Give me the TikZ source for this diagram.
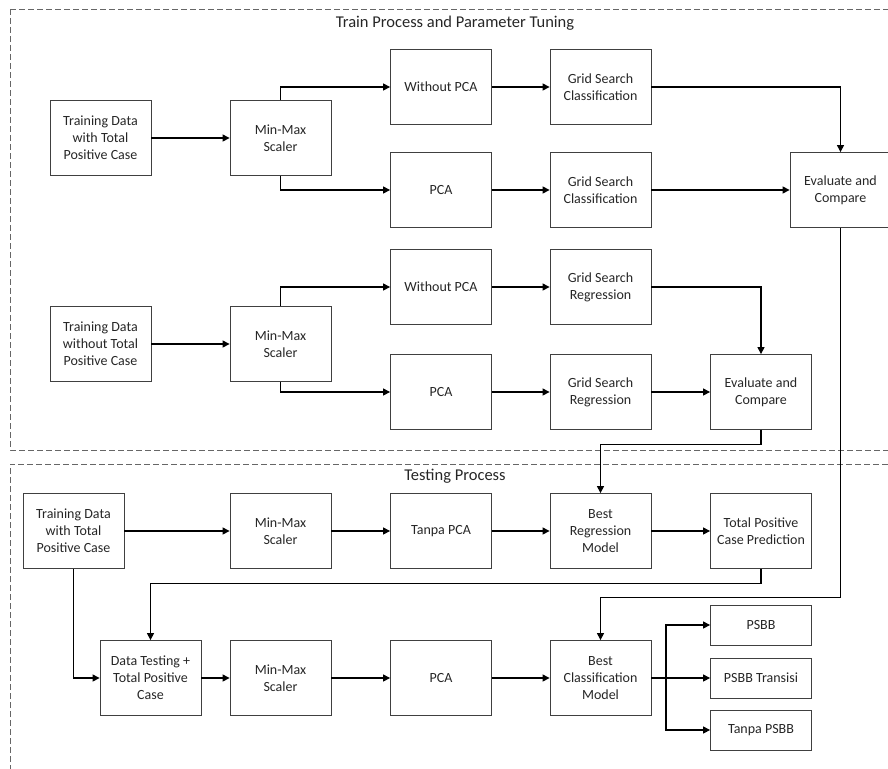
\documentclass[tikz,border=0pt]{standalone}
\usepackage{fontspec}
\setmainfont{Carlito}
\usetikzlibrary{arrows.meta}
\begin{document}
\begin{tikzpicture}[x=1pt,y=-1pt,
  box/.style={draw=black!75, line width=0.8pt, minimum width=101pt, minimum height=75pt, align=center, inner sep=1pt, font=\fontsize{14}{17}\selectfont, text=black!85},
  sbox/.style={box, minimum height=40pt},
  arr/.style={line width=1.1pt, -{Triangle[length=7pt,width=7pt]}},
  ln/.style={line width=1.1pt},
  frame/.style={draw=black!60, dashed, dash pattern=on 6pt off 3pt, line width=0.7pt},
  ttl/.style={font=\fontsize{16.5}{19}\selectfont, text=black!85}]
\useasboundingbox (0,0) rectangle (888,768);
\clip (0,0) rectangle (888,768);
% frames
\draw[frame] (10,9) -- (900,9);
\draw[frame] (10,9) -- (10,450) -- (900,450);
\draw[frame] (10,780) -- (10,464) -- (900,464);
\node[ttl] (t1) at (455,23) {Train Process and Parameter Tuning};
\node[ttl] (t2) at (455,476) {Testing Process};
% top section
\node[box] (td1) at (100.5,138) {Training Data\\with Total\\Positive Case};
\node[box] (mm1) at (280.5,138) {Min-Max\\Scaler};
\node[box] (wp1) at (441,87) {Without PCA};
\node[box] (pc1) at (441,190) {PCA};
\node[box] (gc1) at (600.5,87) {Grid Search\\Classification};
\node[box] (gc2) at (600.5,190) {Grid Search\\Classification};
\node[box] (ec1) at (840.5,190) {Evaluate and\\Compare};
% middle section
\node[box] (td2) at (100.5,344) {Training Data\\without Total\\Positive Case};
\node[box] (mm2) at (280.5,344) {Min-Max\\Scaler};
\node[box] (wp2) at (441,287) {Without PCA};
\node[box] (pc2) at (441,392) {PCA};
\node[box] (gr1) at (600.5,287) {Grid Search\\Regression};
\node[box] (gr2) at (600.5,392) {Grid Search\\Regression};
\node[box] (ec2) at (761,392) {Evaluate and\\Compare};
% bottom section
\node[box] (td3) at (73.5,531) {Training Data\\with Total\\Positive Case};
\node[box] (mm3) at (280.5,531) {Min-Max\\Scaler};
\node[box] (tp) at (441,531) {Tanpa PCA};
\node[box] (brm) at (600.5,531) {Best\\Regression\\Model};
\node[box] (tpc) at (761,531) {Total Positive\\Case Prediction};
\node[box] (dt) at (150.5,678) {Data Testing +\\Total Positive\\Case};
\node[box] (mm4) at (280.5,678) {Min-Max\\Scaler};
\node[box] (pc3) at (441,678) {PCA};
\node[box] (bcm) at (600.5,678) {Best\\Classification\\Model};
\node[sbox] (ps1) at (761,625) {PSBB};
\node[sbox] (ps2) at (761,678) {PSBB Transisi};
\node[sbox] (ps3) at (761,730) {Tanpa PSBB};
% top connectors
\draw[arr] (td1) -- (mm1);
\draw[arr] (mm1.north) |- (wp1.west);
\draw[arr] (mm1.south) |- (pc1.west);
\draw[arr] (wp1) -- (gc1);
\draw[arr] (pc1) -- (gc2);
\draw[arr] (gc1.east) -| (ec1.north);
\draw[arr] (gc2) -- (ec1);
% middle connectors
\draw[arr] (td2) -- (mm2);
\draw[arr] (mm2.north) |- (wp2.west);
\draw[arr] (mm2.south) |- (pc2.west);
\draw[arr] (wp2) -- (gr1);
\draw[arr] (pc2) -- (gr2);
\draw[arr] (gr1.east) -| (ec2.north);
\draw[arr] (gr2) -- (ec2);
\draw[arr] (ec2.south) |- ++(0,15) -| (brm.north);
\draw[arr] (ec1.south) |- ++(0,370) -| (bcm.north);
% bottom connectors
\draw[arr] (td3) -- (mm3);
\draw[arr] (mm3) -- (tp);
\draw[arr] (tp) -- (brm);
\draw[arr] (brm) -- (tpc);
\draw[arr] (tpc.south) |- ++(0,15) -| (dt.north);
\draw[arr] (td3.south) |- (dt.west);
\draw[arr] (dt) -- (mm4);
\draw[arr] (mm4) -- (pc3);
\draw[arr] (pc3) -- (bcm);
\coordinate (fk) at (666,678);
\draw[ln] (bcm.east) -- (fk);
\draw[arr] (fk) |- (ps1.west);
\draw[arr] (fk) -- (ps2.west);
\draw[arr] (fk) |- (ps3.west);
\end{tikzpicture}
\end{document}
